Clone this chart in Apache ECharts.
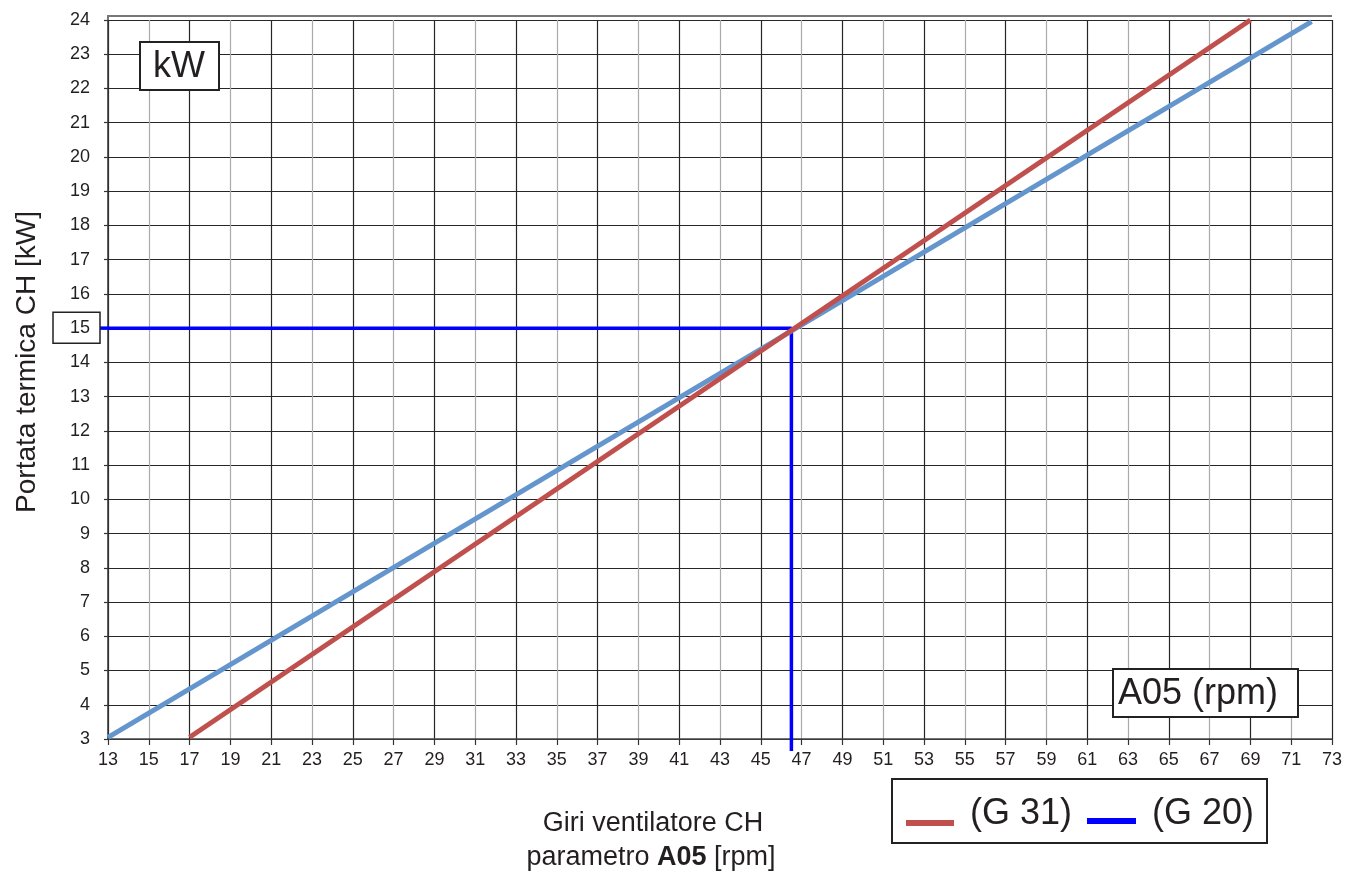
<!DOCTYPE html>
<html>
<head>
<meta charset="utf-8">
<title>Portata termica CH - Giri ventilatore</title>
<script src="https://cdn.jsdelivr.net/npm/echarts@6/dist/echarts.min.js"></script>
<style>
  html, body { margin: 0; padding: 0; background: #fff; }
  #chart { width: 1346px; height: 873px; }
</style>
</head>
<body>
<div id="chart"></div>
<script>
// Fan speed (A05, rpm) against CH heat input (kW)
const xMin = 13, xMax = 73;
const yMin = 3, yMax = 24;
const xTickLabels = [13, 15, 17, 19, 21, 23, 25, 27, 29, 31, 33, 35, 37, 39, 41, 43, 45, 47,
                     49, 51, 53, 55, 57, 59, 61, 63, 65, 67, 69, 71, 73];

// G 31 (propane) curve
const g31Rpm = [17, 69];
const g31Kw  = [3.05, 24];
// G 20 (natural gas) curve
const g20Rpm = [13, 72];
const g20Kw  = [3.05, 23.95];
// Example reading: 15 kW -> A05 = 46.5
const readRpm = 46.5;
const readKw  = 15;

const FONT = '"Liberation Sans", Arial, sans-serif';
const TXT = '#231f20';

const zip = (xs, ys) => xs.map((x, i) => [x, ys[i]]);

const chart = echarts.init(document.getElementById('chart'), null, { renderer: 'canvas' });

const option = {
  animation: false,
  backgroundColor: '#fff',
  grid: { left: 108, right: 14, top: 20, bottom: 134 },
  xAxis: {
    type: 'value',
    min: xMin, max: xMax, interval: 1,
    axisLine: { show: true, onZero: false, lineStyle: { color: '#444', width: 1.5 } },
    axisTick: { show: true, length: 6, customValues: xTickLabels, lineStyle: { color: '#333', width: 1.2 } },
    axisLabel: {
      show: true, customValues: xTickLabels, margin: 12,
      fontSize: 18, fontFamily: FONT, color: TXT
    },
    splitLine: { show: true, lineStyle: { color: ['#262626', '#aaaaaa'], width: 1.2 } }
  },
  yAxis: {
    type: 'value',
    min: yMin, max: yMax, interval: 1,
    axisLine: { show: true, onZero: false, lineStyle: { color: '#333', width: 1.5 } },
    axisTick: { show: true, length: 4, lineStyle: { color: '#333', width: 1.2 } },
    axisLabel: { margin: 18, fontSize: 18, fontFamily: FONT, color: TXT },
    splitLine: { show: true, lineStyle: { color: '#262626', width: 1.2 } }
  },
  series: [
    {
      name: 'lettura',
      type: 'line',
      data: [[xMin, readKw], [readRpm, readKw], [readRpm, yMin]],
      symbol: 'none',
      clip: false,
      lineStyle: { color: '#0000ff', width: 3.5 },
      z: 3,
      silent: true
    },
    {
      name: '(G 20)',
      type: 'line',
      data: zip(g20Rpm, g20Kw),
      symbol: 'none',
      lineStyle: { color: '#6495cd', width: 5 },
      z: 4,
      silent: true
    },
    {
      name: '(G 31)',
      type: 'line',
      data: zip(g31Rpm, g31Kw),
      symbol: 'none',
      lineStyle: { color: '#c0504d', width: 5 },
      z: 5,
      silent: true
    }
  ]
};
chart.setOption(option);

// Annotations: frame top edge, boxed labels, axis titles, legend
const grid = chart.getModel().getComponent('grid', 0).coordinateSystem.getRect();
const readPx = chart.convertToPixel({ xAxisIndex: 0, yAxisIndex: 0 }, [xMin, readKw]);
const footPx = chart.convertToPixel({ xAxisIndex: 0, yAxisIndex: 0 }, [readRpm, yMin]);

const box = (x, y, w, h, lw) => ({
  type: 'rect', shape: { x, y, width: w, height: h },
  style: { fill: '#fff', stroke: '#222', lineWidth: lw }, z: 20
});
const label = (x, y, text, size, align) => ({
  type: 'text', x, y, z: 21,
  style: { text, fontSize: size, fontFamily: FONT, fill: TXT,
           align: align || 'center', verticalAlign: 'middle' }
});

chart.setOption({
  graphic: [
    // top edge of the frame
    { type: 'polyline', z: 10,
      shape: { points: [[grid.x, grid.y], [grid.x, grid.y - 4], [grid.x + grid.width, grid.y - 4]] },
      style: { stroke: '#777', lineWidth: 2, fill: null } },
    // boxed 15 on the kW axis
    { type: 'rect', z: 20,
      shape: { x: readPx[0] - 55, y: readPx[1] - 16, width: 47, height: 31 },
      style: { fill: null, stroke: '#222', lineWidth: 1.5 } },
    { type: 'line', z: 19,
      shape: { x1: readPx[0] - 8, y1: readPx[1], x2: readPx[0], y2: readPx[1] },
      style: { stroke: '#0000ff', lineWidth: 3.5 } },
    // reading line runs on past the rpm axis
    { type: 'line', z: 19,
      shape: { x1: footPx[0], y1: footPx[1], x2: footPx[0], y2: footPx[1] + 12 },
      style: { stroke: '#0000ff', lineWidth: 3.5 } },
    // unit boxes
    box(140, 42, 79, 48, 2),
    label(179, 67, 'kW', 36),
    box(1113, 669, 185, 48, 2),
    label(1118, 694, 'A05 (rpm)', 36, 'left'),
    // axis titles
    { type: 'text', x: 27, y: 362, rotation: Math.PI / 2, z: 21,
      style: { text: 'Portata termica CH [kW]', fontSize: 28, fontFamily: FONT, fill: TXT,
               align: 'center', verticalAlign: 'middle' } },
    label(653, 824, 'Giri ventilatore CH', 27),
    { type: 'text', x: 651, y: 858, z: 21,
      style: { text: 'parametro {b|A05} [rpm]', fontSize: 27, fontFamily: FONT, fill: TXT,
               align: 'center', verticalAlign: 'middle',
               rich: { b: { fontSize: 27, fontWeight: 'bold', fontFamily: FONT, fill: TXT } } } },
    // legend
    box(892, 779, 375, 64, 2),
    { type: 'line', z: 22, shape: { x1: 906, y1: 823, x2: 954, y2: 823 },
      style: { stroke: '#c0504d', lineWidth: 6 } },
    label(970, 814, '(G 31)', 36, 'left'),
    { type: 'line', z: 22, shape: { x1: 1087, y1: 821, x2: 1136, y2: 821 },
      style: { stroke: '#0000ff', lineWidth: 6 } },
    label(1152, 814, '(G 20)', 36, 'left')
  ]
});
</script>
</body>
</html>
